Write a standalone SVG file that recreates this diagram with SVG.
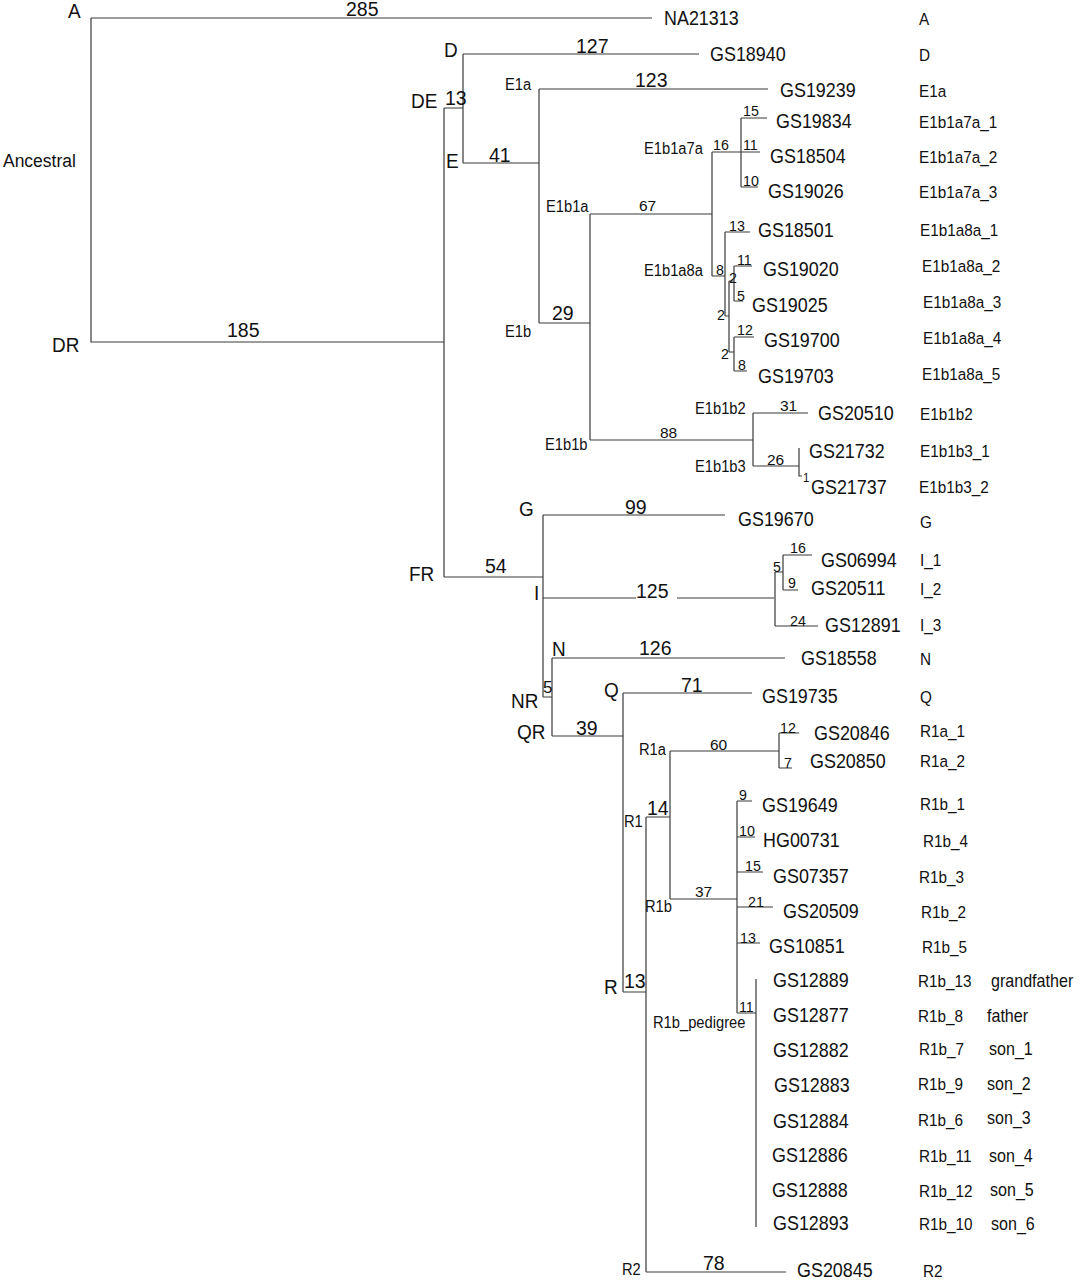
<svg xmlns="http://www.w3.org/2000/svg" width="1081" height="1280" viewBox="0 0 1081 1280">
<style>
text{font-family:"Liberation Sans",Arial,sans-serif;fill:#111;transform-box:fill-box;transform-origin:0 0}
.n{font-size:20px;transform:scaleX(0.95)}
.bl{font-size:19.5px}
.ml{font-size:15.5px}
.sl{font-size:15px;transform:scaleX(0.95)}
.cl{font-size:16px;transform:scaleX(0.92)}
.tip{font-size:19.5px;transform:scaleX(0.92)}
.hg{font-size:17px;transform:scaleX(0.9)}
.rel{font-size:17.5px;transform:scaleX(0.92)}
.anc{font-size:19px;transform:scaleX(0.92)}
.br{fill:none;stroke:#3a3a3a;stroke-width:1.2}
</style>
<rect width="1081" height="1280" fill="#fff"/>
<g id="connectors" class="br">
<path d="M91,18H652M91,18V342H444M444,108V577M444,108H463M463,54V163M463,54H699M463,163H539"/>
<path d="M539,89V323M539,89H768M539,323H590M590,214V440M590,214H712M590,440H753"/>
<path d="M712,152V276M712,152H741M741,118V187M741,118H767M741,152H760M741,187H758"/>
<path d="M712,276H725M725,232V316M725,232H750M725,316H729M729,281V352M729,281H734M734,266V301M734,266H752M734,301H743M729,352H734M734,337V371M734,337H754M734,371H747"/>
<path d="M753,413V466M753,413H808M753,466H799M799,448V476H802"/>
<path d="M444,577H543M543,515V697M543,515H725M543,598H636M677,598H774M543,697H552M552,658V736M552,658H785M552,736H623"/>
<path d="M775,572V626M775,572H783M783,555V590M783,555H812M783,590H798M775,626H818"/>
<path d="M623,693V992M623,693H752M623,992H646M646,817V1272M646,817H670M646,1272H786"/>
<path d="M670,751V899M670,751H779M779,733V768M779,733H799M779,768H792"/>
<path d="M670,899H737M737,801V1013M737,801H752M737,837H755M737,872H763M737,907H773M737,943H760M737,1013H756M756,979V1227"/>
</g>
<g id="branch-lengths">
<text class="bl" x="346" y="16">285</text>
<text class="bl" x="576" y="53">127</text>
<text class="bl" x="635" y="87">123</text>
<text class="bl" x="445" y="105">13</text>
<text class="bl" x="489" y="162">41</text>
<text class="bl" x="227" y="337">185</text>
<text class="bl" x="552" y="320">29</text>
<text class="bl" x="485" y="573">54</text>
<text class="bl" x="625" y="514">99</text>
<text class="bl" x="636" y="598">125</text>
<text class="bl" x="639" y="655">126</text>
<text class="bl" x="681" y="692">71</text>
<text class="bl" x="576" y="735">39</text>
<text class="bl" x="647" y="815">14</text>
<text class="bl" x="624" y="988">13</text>
<text class="bl" x="703" y="1270">78</text>
<text class="ml" x="543" y="693" style="font-size:17px">5</text>
<text class="ml" x="639" y="211">67</text>
<text class="ml" x="660" y="438">88</text>
<text class="ml" x="710" y="750">60</text>
<text class="ml" x="695" y="897">37</text>
<text class="ml" x="780" y="411">31</text>
<text class="ml" x="767" y="465">26</text>
<text class="sl" x="743" y="116">15</text>
<text class="sl" x="713" y="150">16</text>
<text class="sl" x="743" y="150">11</text>
<text class="sl" x="743" y="186">10</text>
<text class="sl" x="716" y="275">8</text>
<text class="sl" x="729" y="231">13</text>
<text class="sl" x="729" y="283">2</text>
<text class="sl" x="737" y="265">11</text>
<text class="sl" x="737" y="301">5</text>
<text class="sl" x="717" y="320">2</text>
<text class="sl" x="721" y="359">2</text>
<text class="sl" x="737" y="335">12</text>
<text class="sl" x="738" y="370">8</text>
<text class="sl" x="803" y="482" style="font-size:12px">1</text>
<text class="sl" x="773" y="572">5</text>
<text class="sl" x="790" y="553">16</text>
<text class="sl" x="788" y="588">9</text>
<text class="sl" x="790" y="626">24</text>
<text class="sl" x="780" y="733">12</text>
<text class="sl" x="784" y="768">7</text>
<text class="sl" x="739" y="800">9</text>
<text class="sl" x="739" y="836">10</text>
<text class="sl" x="745" y="871">15</text>
<text class="sl" x="748" y="907">21</text>
<text class="sl" x="740" y="943">13</text>
<text class="sl" x="739" y="1012">11</text>
</g>
<g id="node-A"><text class="n" x="68" y="18">A</text></g>
<g id="node-Ancestral"><text class="anc" x="3" y="167">Ancestral</text></g>
<g id="node-DR"><text class="n" x="52" y="352">DR</text></g>
<g id="node-DE"><text class="n" x="411" y="108">DE</text></g>
<g id="node-D"><text class="n" x="444" y="57">D</text></g>
<g id="node-E"><text class="n" x="446" y="168">E</text></g>
<g id="node-FR"><text class="n" x="409" y="581">FR</text></g>
<g id="node-G"><text class="n" x="519" y="516">G</text></g>
<g id="node-I"><text class="n" x="534" y="600">I</text></g>
<g id="node-N"><text class="n" x="552" y="656">N</text></g>
<g id="node-NR"><text class="n" x="511" y="708">NR</text></g>
<g id="node-Q"><text class="n" x="604" y="697">Q</text></g>
<g id="node-QR"><text class="n" x="517" y="739">QR</text></g>
<g id="node-R"><text class="n" x="604" y="994">R</text></g>
<g id="node-E1a"><text class="cl" x="505" y="90">E1a</text></g>
<g id="node-E1b1a7a"><text class="cl" x="644" y="154">E1b1a7a</text></g>
<g id="node-E1b1a"><text class="cl" x="546" y="212">E1b1a</text></g>
<g id="node-E1b1a8a"><text class="cl" x="644" y="276">E1b1a8a</text></g>
<g id="node-E1b"><text class="cl" x="505" y="337">E1b</text></g>
<g id="node-E1b1b2"><text class="cl" x="695" y="414">E1b1b2</text></g>
<g id="node-E1b1b"><text class="cl" x="545" y="450">E1b1b</text></g>
<g id="node-E1b1b3"><text class="cl" x="695" y="472">E1b1b3</text></g>
<g id="node-R1a"><text class="cl" x="639" y="755">R1a</text></g>
<g id="node-R1"><text class="cl" x="624" y="827">R1</text></g>
<g id="node-R1b"><text class="cl" x="645" y="912">R1b</text></g>
<g id="node-R1b_pedigree"><text class="cl" x="653" y="1028">R1b_pedigree</text></g>
<g id="node-R2"><text class="cl" x="622" y="1275">R2</text></g>
<g id="tip-NA21313"><text class="tip" x="664" y="25">NA21313</text><text class="hg" x="919" y="25">A</text></g>
<g id="tip-GS18940"><text class="tip" x="710" y="61">GS18940</text><text class="hg" x="919" y="61">D</text></g>
<g id="tip-GS19239"><text class="tip" x="780" y="97">GS19239</text><text class="hg" x="919" y="97">E1a</text></g>
<g id="tip-GS19834"><text class="tip" x="776" y="128">GS19834</text><text class="hg" x="919" y="128">E1b1a7a_1</text></g>
<g id="tip-GS18504"><text class="tip" x="770" y="163">GS18504</text><text class="hg" x="919" y="163">E1b1a7a_2</text></g>
<g id="tip-GS19026"><text class="tip" x="768" y="198">GS19026</text><text class="hg" x="919" y="198">E1b1a7a_3</text></g>
<g id="tip-GS18501"><text class="tip" x="758" y="237">GS18501</text><text class="hg" x="920" y="236">E1b1a8a_1</text></g>
<g id="tip-GS19020"><text class="tip" x="763" y="276">GS19020</text><text class="hg" x="922" y="272">E1b1a8a_2</text></g>
<g id="tip-GS19025"><text class="tip" x="752" y="312">GS19025</text><text class="hg" x="923" y="308">E1b1a8a_3</text></g>
<g id="tip-GS19700"><text class="tip" x="764" y="347">GS19700</text><text class="hg" x="923" y="344">E1b1a8a_4</text></g>
<g id="tip-GS19703"><text class="tip" x="758" y="383">GS19703</text><text class="hg" x="922" y="380">E1b1a8a_5</text></g>
<g id="tip-GS20510"><text class="tip" x="818" y="420">GS20510</text><text class="hg" x="920" y="420">E1b1b2</text></g>
<g id="tip-GS21732"><text class="tip" x="809" y="458">GS21732</text><text class="hg" x="920" y="457">E1b1b3_1</text></g>
<g id="tip-GS21737"><text class="tip" x="811" y="494">GS21737</text><text class="hg" x="919" y="493">E1b1b3_2</text></g>
<g id="tip-GS19670"><text class="tip" x="738" y="526">GS19670</text><text class="hg" x="920" y="528">G</text></g>
<g id="tip-GS06994"><text class="tip" x="821" y="567">GS06994</text><text class="hg" x="920" y="566">I_1</text></g>
<g id="tip-GS20511"><text class="tip" x="811" y="595">GS20511</text><text class="hg" x="920" y="595">I_2</text></g>
<g id="tip-GS12891"><text class="tip" x="825" y="632">GS12891</text><text class="hg" x="920" y="631">I_3</text></g>
<g id="tip-GS18558"><text class="tip" x="801" y="665">GS18558</text><text class="hg" x="920" y="665">N</text></g>
<g id="tip-GS19735"><text class="tip" x="762" y="703">GS19735</text><text class="hg" x="920" y="703">Q</text></g>
<g id="tip-GS20846"><text class="tip" x="814" y="740">GS20846</text><text class="hg" x="920" y="737">R1a_1</text></g>
<g id="tip-GS20850"><text class="tip" x="810" y="768">GS20850</text><text class="hg" x="920" y="767">R1a_2</text></g>
<g id="tip-GS19649"><text class="tip" x="762" y="812">GS19649</text><text class="hg" x="920" y="810">R1b_1</text></g>
<g id="tip-HG00731"><text class="tip" x="763" y="847">HG00731</text><text class="hg" x="923" y="847">R1b_4</text></g>
<g id="tip-GS07357"><text class="tip" x="773" y="883">GS07357</text><text class="hg" x="919" y="883">R1b_3</text></g>
<g id="tip-GS20509"><text class="tip" x="783" y="918">GS20509</text><text class="hg" x="921" y="918">R1b_2</text></g>
<g id="tip-GS10851"><text class="tip" x="769" y="953">GS10851</text><text class="hg" x="922" y="953">R1b_5</text></g>
<g id="tip-GS12889"><text class="tip" x="773" y="987">GS12889</text><text class="hg" x="918" y="987">R1b_13</text><text class="rel" x="991" y="987">grandfather</text></g>
<g id="tip-GS12877"><text class="tip" x="773" y="1022">GS12877</text><text class="hg" x="918" y="1022">R1b_8</text><text class="rel" x="987" y="1022">father</text></g>
<g id="tip-GS12882"><text class="tip" x="773" y="1057">GS12882</text><text class="hg" x="919" y="1055">R1b_7</text><text class="rel" x="989" y="1055">son_1</text></g>
<g id="tip-GS12883"><text class="tip" x="774" y="1092">GS12883</text><text class="hg" x="918" y="1090">R1b_9</text><text class="rel" x="987" y="1090">son_2</text></g>
<g id="tip-GS12884"><text class="tip" x="773" y="1128">GS12884</text><text class="hg" x="918" y="1126">R1b_6</text><text class="rel" x="987" y="1124">son_3</text></g>
<g id="tip-GS12886"><text class="tip" x="772" y="1162">GS12886</text><text class="hg" x="919" y="1162">R1b_11</text><text class="rel" x="989" y="1162">son_4</text></g>
<g id="tip-GS12888"><text class="tip" x="772" y="1197">GS12888</text><text class="hg" x="919" y="1197">R1b_12</text><text class="rel" x="990" y="1196">son_5</text></g>
<g id="tip-GS12893"><text class="tip" x="773" y="1230">GS12893</text><text class="hg" x="919" y="1230">R1b_10</text><text class="rel" x="991" y="1230">son_6</text></g>
<g id="tip-GS20845"><text class="tip" x="797" y="1277">GS20845</text><text class="hg" x="923" y="1277">R2</text></g>
</svg>
